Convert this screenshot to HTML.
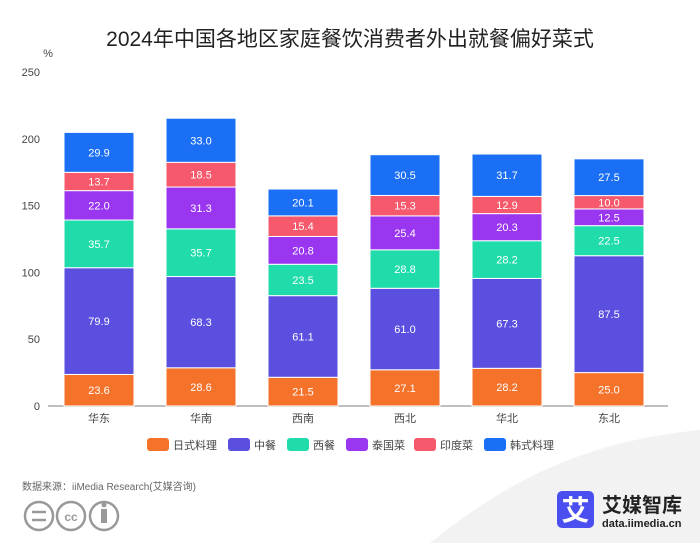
<!DOCTYPE html>
<html><head><meta charset="utf-8"><style>
body{margin:0;background:#fff;font-family:"Liberation Sans","Noto Sans CJK SC",sans-serif;}
#wrap{position:relative;width:700px;height:543px;overflow:hidden;background:#fff}
</style></head><body>
<div id="wrap">
<svg id="chart" width="700" height="543">
<path d="M430 543 C520 470 600 440 700 430 L700 543 Z" fill="#f2f2f2"/>
<text x="350" y="46" text-anchor="middle" font-size="21" fill="#222">2024年中国各地区家庭餐饮消费者外出就餐偏好菜式</text>
<text x="48" y="57" text-anchor="middle" font-size="11" fill="#444">%</text>
<g id="axes"></g><g id="bars"></g><g id="legend"></g>
<text x="22" y="490" font-size="10" fill="#666">数据来源：iiMedia Research(艾媒咨询)</text>
<g fill="none" stroke="#999" stroke-width="2.5">
<circle cx="39" cy="516" r="14"/><circle cx="71" cy="516" r="14"/><circle cx="104" cy="516" r="14"/>
<line x1="32" y1="512" x2="46" y2="512"/><line x1="32" y1="520" x2="46" y2="520"/>
<text x="71" y="521" font-size="12" fill="#999" stroke="none" text-anchor="middle" font-weight="bold">cc</text>
<rect x="101" y="509" width="6" height="14" fill="#999" stroke="none"/><circle cx="104" cy="505" r="2.5" fill="#999" stroke="none"/>
</g>
<g>
<rect x="557" y="491" width="37" height="37" rx="5" fill="#4b4ff0"/>
<text x="575.5" y="520" font-size="28" fill="#fff" text-anchor="middle" font-weight="bold">艾</text>
<text x="602" y="512" font-size="20" fill="#222" font-weight="bold">艾媒智库</text>
<text x="602" y="527" font-size="11" fill="#222" font-weight="bold">data.iimedia.cn</text>
</g>
</svg>
</div>
<script>
const categories=["华东","华南","西南","西北","华北","东北"];
const seriesNames=["日式料理","中餐","西餐","泰国菜","印度菜","韩式料理"];
const japanese=[23.6,28.6,21.5,27.1,28.2,25.0];
const chinese=[79.9,68.3,61.1,61.0,67.3,87.5];
const western=[35.7,35.7,23.5,28.8,28.2,22.5];
const thai=[22.0,31.3,20.8,25.4,20.3,12.5];
const indian=[13.7,18.5,15.4,15.3,12.9,10.0];
const korean=[29.9,33.0,20.1,30.5,31.7,27.5];
const yTicks=[0,50,100,150,200,250];
const series=[japanese,chinese,western,thai,indian,korean];
const colors=["#f5722b","#5b4fe0","#1fdcaa","#9a35f0","#f5596b","#1a6ff5"];
const NS="http://www.w3.org/2000/svg";
const y0=406,y1=72,x0=48,step=102,bw=70;
const yScale=v=>y0-(v/250)*(y0-y1);
const xScale=i=>x0+51+i*step;
function mk(tag,attrs,parent){const e=document.createElementNS(NS,tag);for(const k in attrs)e.setAttribute(k,attrs[k]);parent.appendChild(e);return e;}
const axes=document.getElementById('axes'),bars=document.getElementById('bars'),legend=document.getElementById('legend');
yTicks.forEach(t=>{
 const tx=mk('text',{x:40,y:yScale(t)+4,'text-anchor':'end','font-size':11,fill:'#444'},axes);tx.textContent=t;
 
 
});
const ax=mk('line',{x1:x0,x2:x0+6*step+8,y1:y0,y2:y0,stroke:'#aaa','stroke-width':1.5},axes);


categories.forEach((c,i)=>{
 const tx=mk('text',{x:xScale(i),y:y0+16,'text-anchor':'middle','font-size':11,fill:'#444'},axes);tx.textContent=c;
 
 
 let cum=0;
 series.forEach((s,k)=>{
  const v=s[i];const top=yScale(cum+v),bot=yScale(cum);
  const r=mk('rect',{x:xScale(i)-bw/2,y:top,width:bw,height:bot-top,fill:colors[k],stroke:'#fff','stroke-width':1},bars);
  
  
  const l=mk('text',{x:xScale(i),y:(top+bot)/2+4,'text-anchor':'middle','font-size':11,fill:'#fff'},bars);l.textContent=v.toFixed(1);
  
  
  cum+=v;
 });
});
const lx=[147,228,287,346,414,484];
seriesNames.forEach((n,k)=>{
 const g=mk('g',{},legend);
 
 
 mk('rect',{x:lx[k],y:438,width:22,height:13,rx:3,fill:colors[k]},g);
 const t=mk('text',{x:lx[k]+26,y:449,'font-size':11,fill:'#444'},g);t.textContent=n;
});
</script>
</body></html>
